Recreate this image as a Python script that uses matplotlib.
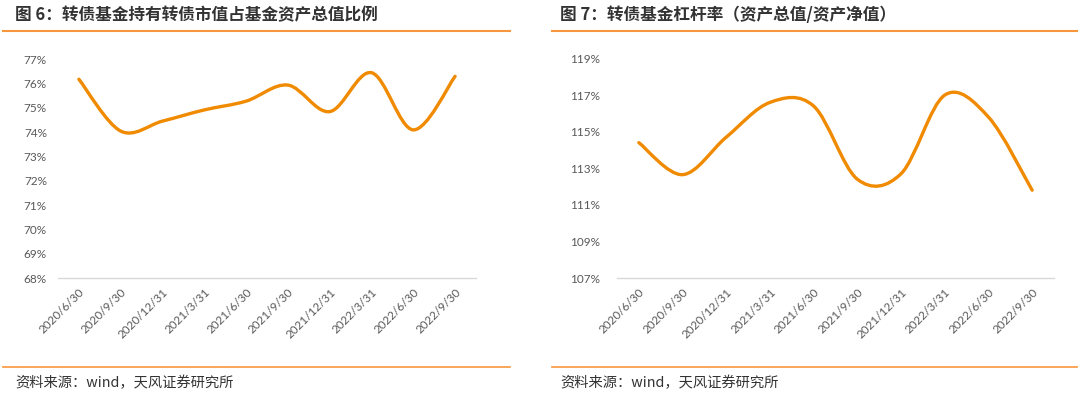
import numpy as np
import matplotlib
matplotlib.use("Agg")
import matplotlib.pyplot as plt
from matplotlib.path import Path
from matplotlib.patches import PathPatch
from matplotlib.ticker import FuncFormatter

plt.rcParams['font.family'] = ['Lato', 'Noto Sans CJK SC', 'DejaVu Sans']

# 数据
dates = ['2020/6/30', '2020/9/30', '2020/12/31', '2021/3/31', '2021/6/30',
         '2021/9/30', '2021/12/31', '2022/3/31', '2022/6/30', '2022/9/30']
share = [76.18, 74.05, 74.46, 74.92, 75.28, 75.94, 74.85, 76.45, 74.10, 76.30]
leverage = [114.4, 112.65, 114.7, 116.6, 116.4, 112.4, 112.7, 117.0, 115.8, 111.8]
share_ticks = list(range(68, 78, 1))
leverage_ticks = list(range(107, 120, 2))

title6 = '图 6：转债基金持有转债市值占基金资产总值比例'
title7 = '图 7：转债基金杠杆率（资产总值/资产净值）'
source = '资料来源：wind，天风证券研究所'

ORANGE = '#F08A00'
RULE = '#F7963C'
GREY = '#595959'

W, H = 1080, 398
fig = plt.figure(figsize=(W / 100, H / 100), dpi=100)


def px_axes(x0, y_top, x1, y_bot):
    return fig.add_axes([x0 / W, 1 - y_bot / H, (x1 - x0) / W, (y_bot - y_top) / H])


def smooth_line(ax, y, **kw):
    # excel风格平滑曲线（三次贝塞尔）
    x = np.arange(len(y), dtype=float)
    y = np.asarray(y, dtype=float)
    verts = [(x[0], y[0])]
    codes = [Path.MOVETO]
    n = len(y)
    for i in range(n - 1):
        xp, yp = (x[i - 1], y[i - 1]) if i > 0 else (x[i], y[i])
        xn, yn = (x[i + 2], y[i + 2]) if i + 2 < n else (x[i + 1], y[i + 1])
        c1 = (x[i] + (x[i + 1] - xp) / 6, y[i] + (y[i + 1] - yp) / 6)
        c2 = (x[i + 1] - (xn - x[i]) / 6, y[i + 1] - (yn - y[i]) / 6)
        verts += [c1, c2, (x[i + 1], y[i + 1])]
        codes += [Path.CURVE4] * 3
    ax.add_patch(PathPatch(Path(verts, codes), fill=False, **kw))


def panel(ax, y, ticks):
    smooth_line(ax, y, edgecolor=ORANGE, lw=2.4, capstyle='round', joinstyle='round')
    ax.set_xlim(-0.5, len(y) - 0.5)
    ax.set_ylim(ticks[0], ticks[-1])
    ax.set_yticks(ticks)
    ax.yaxis.set_major_formatter(FuncFormatter(lambda v, p: f'{v:.0f}%'))
    ax.set_xticks(range(len(dates)))
    ax.set_xticklabels(dates, rotation=45, ha='right', va='top', rotation_mode='anchor')
    for s in ['top', 'right', 'left']:
        ax.spines[s].set_visible(False)
    ax.spines['bottom'].set_color('#D9D9D9')
    ax.spines['bottom'].set_linewidth(1.0)
    ax.tick_params(axis='both', length=0, colors=GREY, labelsize=8.5)
    ax.tick_params(axis='y', pad=12)
    ax.tick_params(axis='x', pad=6)


ax1 = px_axes(58, 59.3, 476, 278.3)
panel(ax1, share, share_ticks)
ax1.tick_params(axis='y', pad=8)

ax2 = px_axes(617, 58.5, 1054, 278)
panel(ax2, leverage, leverage_ticks)

# 标题与分隔线
for x0, x1, tx, t in [(3, 510, 15, title6), (552, 1077, 560, title7)]:
    fig.text(tx / W, 1 - 15 / H, t, fontsize=12, fontweight='bold', color='#333333',
             va='center', ha='left', family=['Noto Sans CJK SC', 'DejaVu Sans'])
    fig.add_artist(plt.Line2D([x0 / W, x1 / W], [1 - 31 / H] * 2, color=RULE, lw=1.5))
    fig.add_artist(plt.Line2D([x0 / W, x1 / W], [1 - 367 / H] * 2, color=RULE, lw=1.2))
    fig.text((tx) / W, 1 - 383 / H, source, fontsize=10.3, color='#333333',
             va='center', ha='left', family=['Noto Sans CJK SC', 'DejaVu Sans'])

fig.savefig('out.png', dpi=100)
